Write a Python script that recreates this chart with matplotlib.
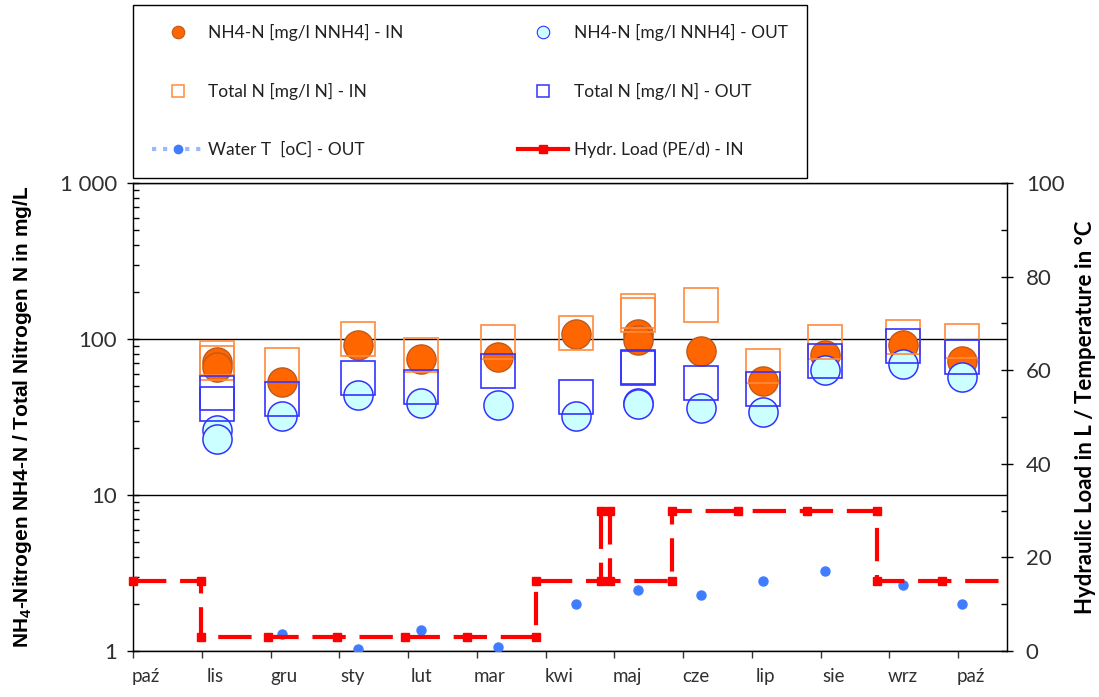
import numpy as np
import matplotlib
matplotlib.use("Agg")
import matplotlib.pyplot as plt
from matplotlib.lines import Line2D
from matplotlib.ticker import FixedLocator, NullFormatter

plt.rcParams['font.family'] = ['Lato', 'DejaVu Sans']
plt.rcParams['mathtext.fontset'] = 'custom'
plt.rcParams['mathtext.rm'] = 'Liberation Sans:bold'
plt.rcParams['mathtext.it'] = 'Liberation Sans:bold'

# month axis: 0 = paz (start), one unit per month
months = ['paź', 'lis', 'gru', 'sty', 'lut', 'mar', 'kwi', 'maj', 'cze', 'lip', 'sie', 'wrz', 'paź']

# sampling dates (month units) and measured values
sample_x = [1.22, 1.22, 2.16, 3.27, 4.19, 5.31, 6.44, 7.35, 7.35, 8.26, 9.16, 10.07, 11.2, 12.05]
nh4_in = [71, 66.5, 53, 92, 74, 77, 107, 108, 98, 84, 54, 79, 92, 72]
nh4_out = [26, 23, 32, 44, 39, 37.5, 32, 39, 38.4, 36, 34, 63, 69, 57]
tn_in = [75, 70, 68, 100, 79, 95, 110, 151, 142, 165, 67, 95, 103, 97]
tn_out = [45, 38.5, 41, 56.5, 49, 62.5, 42.5, 66.5, 65.5, 52, 48, 72.5, 90.5, 77]
water_t = [np.nan, np.nan, 3.6, 0.4, 4.5, 0.9, 10, 13, np.nan, 12, 15, 17, 14, 10]

# hydraulic load steps
load_x = [0, 0.99, 0.99, 1.97, 2.96, 3.96, 4.86, 5.86, 5.86, 6.80, 6.80, 6.93, 6.93,
          7.84, 7.84, 8.80, 9.80, 10.82, 10.82, 11.76, 12.71]
load_y = [15, 15, 3, 3, 3, 3, 3, 3, 15, 15, 30, 30, 15,
          15, 30, 30, 30, 30, 15, 15, 15]

c_in = '#FF6600'
c_in_edge = '#BF5A1C'
c_out = '#CCFFFF'
c_blue = '#3333FF'
c_tn_in = '#FF8A3D'
c_temp = '#3F7CFF'
c_load = '#FF0000'
tick_col = '#303030'

fig = plt.figure(figsize=(10.99, 6.97), dpi=100)
ax = fig.add_axes([133 / 1099, 46 / 697, 874 / 1099, 468 / 697])

ax.plot(sample_x, nh4_in, ls='none', marker='o', ms=21, mfc=c_in, mec=c_in_edge, mew=1.0, zorder=2)
ax.plot(sample_x, nh4_out, ls='none', marker='o', ms=21, mfc=c_out, mec=c_blue, mew=1.1, zorder=3)
ax.plot(sample_x, tn_in, ls='none', marker='s', ms=25, mfc='none', mec=c_tn_in, mew=1.2, zorder=4)
ax.plot(sample_x, tn_out, ls='none', marker='s', ms=25, mfc='none', mec=c_blue, mew=1.2, zorder=5)

ax.set_yscale('log')
ax.set_ylim(1, 1000)
ax.set_xlim(0, 12.71)
ax.set_yticks([1, 10, 100, 1000])
ax.set_yticklabels(['1', '10', '100', '1 000'])
ax.yaxis.set_minor_formatter(NullFormatter())
ax.yaxis.grid(True, which='major', color='black', lw=1.0)
ax.set_axisbelow(True)

ax.set_xticks(range(len(months)))
ax.set_xticklabels([])
ax.xaxis.set_minor_locator(FixedLocator([i + 0.19 for i in range(len(months))]))
ax.xaxis.set_minor_formatter(plt.FixedFormatter(months))
ax.tick_params(axis='x', which='major', direction='out', length=5, width=1, color='#333333')
ax.tick_params(axis='x', which='minor', length=0, pad=12, labelsize=13.5, labelcolor=tick_col)
ax.tick_params(axis='y', which='major', direction='inout', length=9, width=1, labelsize=16,
               labelcolor=tick_col, pad=7)
ax.tick_params(axis='y', which='minor', direction='in', length=4, width=1)
for s in ax.spines.values():
    s.set_linewidth(1.0)
    s.set_color('#222222')

ax.set_ylabel(r'NH$_4$-Nitrogen NH4-N / Total Nitrogen N in mg/L', family='Liberation Sans',
              fontweight='bold', fontsize=15)
ax.yaxis.set_label_coords(-0.113, 0.5)

ax2 = ax.twinx()
ax2.plot(sample_x, water_t, ls='none', marker='o', ms=6.5, color=c_temp, zorder=3)
ax2.plot(load_x, load_y, color=c_load, lw=3, dashes=(8, 3.3), marker='s', ms=6,
         markevery=list(range(len(load_x) - 1)), clip_on=False, zorder=4)
ax2.set_ylim(0, 100)
ax2.set_yticks(range(0, 101, 20))
ax2.yaxis.set_minor_locator(FixedLocator(range(10, 100, 20)))
ax2.tick_params(axis='y', which='major', direction='inout', length=9, width=1, labelsize=16,
                labelcolor=tick_col, pad=9)
ax2.tick_params(axis='y', which='minor', direction='in', length=4, width=1)
ax2.set_ylabel('Hydraulic Load in L / Temperature in °C', fontweight='bold', fontsize=16, labelpad=8)

handles = [
    Line2D([], [], ls='none', marker='o', ms=9, mfc=c_in, mec=c_in_edge, mew=0.8),
    Line2D([], [], ls='none', marker='s', ms=8, mfc='none', mec=c_tn_in, mew=1.1),
    Line2D([], [], ls=':', lw=3, color='#9DB7FF', marker='o', ms=6, mfc=c_temp, mec=c_temp),
    Line2D([], [], ls='none', marker='o', ms=9, mfc=c_out, mec=c_blue, mew=0.8),
    Line2D([], [], ls='none', marker='s', ms=8, mfc='none', mec=c_blue, mew=1.1),
    Line2D([], [], ls='-', lw=3, color=c_load, marker='s', ms=6),
]
labels = ['NH4-N [mg/l NNH4] - IN', 'Total N [mg/l N] - IN', 'Water T  [oC] - OUT',
          'NH4-N [mg/l NNH4] - OUT', 'Total N [mg/l N] - OUT', 'Hydr. Load (PE/d) - IN']
leg = fig.legend(handles, labels, ncol=2, loc='upper left', bbox_to_anchor=(133 / 1099, 1 - 5 / 697),
                 fontsize=12.5, frameon=True, fancybox=False, edgecolor='black', framealpha=1,
                 borderpad=1.12, labelspacing=2.4, handlelength=2.9, handletextpad=0.3,
                 columnspacing=6.6, borderaxespad=0)
leg.get_frame().set_linewidth(1.0)
for t in leg.get_texts():
    t.set_color('#202020')

fig.savefig('out.png', dpi=100)
